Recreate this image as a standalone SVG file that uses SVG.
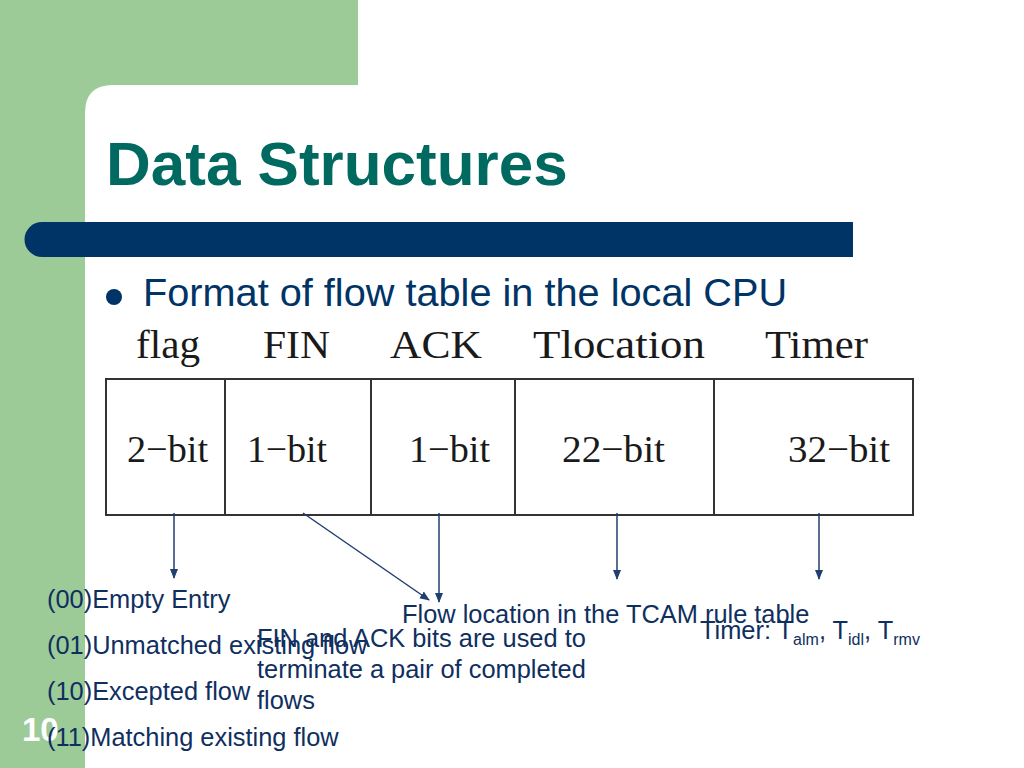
<svg xmlns="http://www.w3.org/2000/svg" width="1024" height="768" viewBox="0 0 1024 768">
<style>
.lbl{font-family:"Liberation Sans",Arial,sans-serif;font-size:25.4px;fill:#0f2f5f}
.hdr{font-family:"Liberation Serif","Times New Roman",serif;font-size:41px;fill:#1a1a1a}
.cell{font-family:"Liberation Serif","Times New Roman",serif;font-size:38px;fill:#1a1a1a}
.tbl{fill:none;stroke:#333;stroke-width:2}
.conn{stroke:#1f3f6f;stroke-width:1.5;fill:none}
.sub{font-size:16px}
</style>
<defs>
<marker id="ah" markerUnits="userSpaceOnUse" markerWidth="10" markerHeight="10" refX="9" refY="5" orient="auto">
<path d="M0,1 L10,5 L0,9 Z" fill="#1f3f6f"/>
</marker>
</defs>
<g id="background">
<rect x="0" y="0" width="1024" height="768" fill="#9ccb98"/>
<path d="M358,0 H1024 V768 H85 V113 Q85,85 113,85 H358 Z" fill="#ffffff"/>
<path d="M42,222 H853 V257 H42 A17.5,17.5 0 0 1 42,222 Z" fill="#003366"/>
</g>
<g id="title">
<text x="106" y="185" font-family="'Liberation Sans',Arial,sans-serif" font-weight="bold" font-size="62" fill="#006a60">Data Structures</text>
</g>
<g id="bullet">
<circle cx="114" cy="297" r="8" fill="#003366"/>
<text x="143" y="306" font-family="'Liberation Sans',Arial,sans-serif" font-size="39.7" fill="#003366">Format of flow table in the local CPU</text>
</g>
<g id="table">
<rect class="tbl" x="106" y="379" width="807" height="136"/>
<line class="tbl" x1="225" y1="379" x2="225" y2="515"/>
<line class="tbl" x1="371" y1="379" x2="371" y2="515"/>
<line class="tbl" x1="515" y1="379" x2="515" y2="515"/>
<line class="tbl" x1="714" y1="379" x2="714" y2="515"/>
<text class="hdr" x="136" y="358" textLength="64" lengthAdjust="spacingAndGlyphs">flag</text>
<text class="hdr" x="263" y="358" textLength="67" lengthAdjust="spacingAndGlyphs">FIN</text>
<text class="hdr" x="390" y="358" textLength="92" lengthAdjust="spacingAndGlyphs">ACK</text>
<text class="hdr" x="533" y="358" textLength="172" lengthAdjust="spacingAndGlyphs">Tlocation</text>
<text class="hdr" x="765" y="358" textLength="103" lengthAdjust="spacingAndGlyphs">Timer</text>
<text class="cell" x="127" y="462" textLength="81" lengthAdjust="spacingAndGlyphs">2−bit</text>
<text class="cell" x="247" y="462" textLength="80" lengthAdjust="spacingAndGlyphs">1−bit</text>
<text class="cell" x="409" y="462" textLength="81" lengthAdjust="spacingAndGlyphs">1−bit</text>
<text class="cell" x="562" y="462" textLength="103" lengthAdjust="spacingAndGlyphs">22−bit</text>
<text class="cell" x="788" y="462" textLength="102" lengthAdjust="spacingAndGlyphs">32−bit</text>
</g>
<g id="connectors">
<line class="conn" x1="174" y1="513" x2="174" y2="578" marker-end="url(#ah)"/>
<line class="conn" x1="303" y1="513" x2="429" y2="600" marker-end="url(#ah)"/>
<line class="conn" x1="439" y1="513" x2="439" y2="602" marker-end="url(#ah)"/>
<line class="conn" x1="617" y1="513" x2="617" y2="579" marker-end="url(#ah)"/>
<line class="conn" x1="819" y1="513" x2="819" y2="579" marker-end="url(#ah)"/>
</g>
<g id="flag-labels">
<text class="lbl" x="47" y="608">(00)Empty Entry</text>
<text class="lbl" x="47" y="654">(01)Unmatched existing flow</text>
<text class="lbl" x="47" y="700">(10)Excepted flow</text>
</g>
<g id="slide-number">
<text x="22" y="741" font-family="'Liberation Sans',Arial,sans-serif" font-weight="bold" font-size="33" fill="#ffffff">10</text>
</g>
<g id="flag-labels-2">
<text class="lbl" x="47" y="746">(11)Matching existing flow</text>
</g>
<g id="finack-label">
<text class="lbl" x="257" y="647">FIN and ACK bits are used to</text>
<text class="lbl" x="257" y="678">terminate a pair of completed</text>
<text class="lbl" x="257" y="709">flows</text>
</g>
<g id="tlocation-label">
<text class="lbl" x="402" y="623">Flow location in the TCAM rule table</text>
</g>
<g id="timer-label">
<text class="lbl" x="700" y="639">Timer: T<tspan class="sub" dy="6">alm</tspan><tspan dy="-6">, T</tspan><tspan class="sub" dy="6">idl</tspan><tspan dy="-6">, T</tspan><tspan class="sub" dy="6">rmv</tspan></text>
</g>
</svg>
